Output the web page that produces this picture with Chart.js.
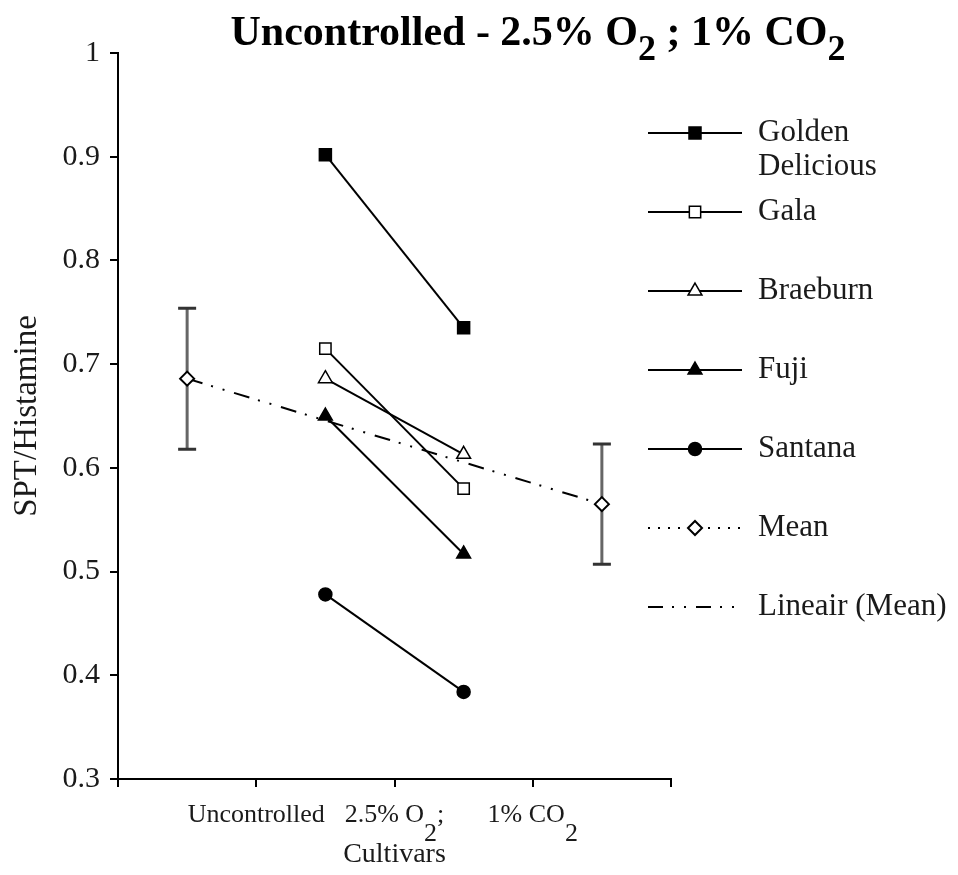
<!DOCTYPE html>
<html>
<head>
<meta charset="utf-8">
<script src="https://cdn.jsdelivr.net/npm/chart.js@4.4.0/dist/chart.umd.min.js"></script>
<style>
  html, body { margin: 0; padding: 0; background: #fff; }
</style>
</head>
<body>
<canvas id="myChart" width="958" height="875"></canvas>
<script>
"use strict";

// "_2" marks a subscript digit
const chartTitle = "Uncontrolled - 2.5% O_2 ; 1% CO_2";
const tickPos = [1, 2, 3];
const tickLabels = ["Uncontrolled", "2.5% O_2;", "1% CO_2"];

// the two storage conditions sit between the tick marks
const cultivarPos = [1.5, 2.5];
const goldenDelicious = [0.902, 0.735];
const gala = [0.715, 0.580];
const braeburn = [0.686, 0.613];
const fuji = [0.650, 0.517];
const santana = [0.478, 0.384];

const meanPos = [0.5, 3.5];
const meanValues = [0.686, 0.565];
const meanErrors = [0.068, 0.058];

const serif = '"Liberation Serif", "Times New Roman", serif';
const ink = "#1a1a1a";

function pts(xs, ys) {
  return xs.map(function (x, i) { return { x: x, y: ys[i] }; });
}

// least squares line through the mean points
function linearFit(xs, ys) {
  const n = xs.length;
  const mx = xs.reduce((a, b) => a + b, 0) / n;
  const my = ys.reduce((a, b) => a + b, 0) / n;
  let sxy = 0, sxx = 0;
  for (let i = 0; i < n; i++) {
    sxy += (xs[i] - mx) * (ys[i] - my);
    sxx += (xs[i] - mx) * (xs[i] - mx);
  }
  const b = sxy / sxx;
  return xs.map(x => my + b * (x - mx));
}

// text with subscript digits
function drawRich(ctx, str, x, y, size, weight, subScale, subDrop) {
  const parts = str.split(/_(\d)/).map((t, i) => ({ t: t, sub: i % 2 === 1 })).filter(p => p.t);
  const fontOf = p => weight + " " + (p.sub ? Math.round(size * subScale) : size) + "px " + serif;
  let w = 0;
  parts.forEach(p => { ctx.font = fontOf(p); p.w = ctx.measureText(p.t).width; w += p.w; });
  let cx = x - w / 2;
  ctx.textAlign = "left";
  ctx.textBaseline = "alphabetic";
  parts.forEach(p => {
    ctx.font = fontOf(p);
    ctx.fillText(p.t, cx, p.sub ? y + size * subDrop : y);
    cx += p.w;
  });
}

const lineDS = function (label, ys, style, radius, fill) {
  return {
    label: label,
    data: pts(cultivarPos, ys),
    borderColor: "#000",
    borderWidth: 2,
    pointStyle: style,
    pointRadius: radius,
    pointBackgroundColor: fill,
    pointBorderColor: "#000",
    pointBorderWidth: 1.5,
    legendDash: []
  };
};

const datasets = [
  lineDS("Golden Delicious", goldenDelicious, "rect", 8.5, "#000"),
  lineDS("Gala", gala, "rect", 8, "#fff"),
  lineDS("Braeburn", braeburn, "triangle", 8, "#fff"),
  lineDS("Fuji", fuji, "triangle", 8, "#000"),
  lineDS("Santana", santana, "circle", 6.5, "#000"),
  {
    label: "Mean",
    data: pts(meanPos, meanValues),
    showLine: false,
    borderColor: "#000",
    borderWidth: 2,
    pointStyle: "rectRot",
    pointRadius: 7,
    pointBackgroundColor: "#fff",
    pointBorderColor: "#000",
    pointBorderWidth: 2,
    legendDash: [2, 8],
    errors: meanErrors
  },
  {
    label: "Lineair (Mean)",
    data: pts(meanPos, linearFit(meanPos, meanValues)),
    borderColor: "#000",
    borderWidth: 2,
    borderDash: [16, 9, 2, 10, 2, 10],
    pointRadius: 0,
    legendDash: [15, 9, 2, 10, 2, 10]
  }
];

// vertical error bars under the mean markers
const errorBars = {
  id: "errorBars",
  beforeDatasetsDraw(chart) {
    const ctx = chart.ctx;
    const x = chart.scales.x, y = chart.scales.y;
    chart.data.datasets.forEach(ds => {
      if (!ds.errors) return;
      ctx.save();
      ctx.strokeStyle = "#666";
      ctx.lineWidth = 3;
      ds.data.forEach((p, i) => {
        const px = x.getPixelForValue(p.x);
        const top = y.getPixelForValue(p.y + ds.errors[i]);
        const bot = y.getPixelForValue(p.y - ds.errors[i]);
        ctx.beginPath();
        ctx.moveTo(px, top); ctx.lineTo(px, bot);
        ctx.stroke();
        ctx.strokeStyle = "#333";
        ctx.beginPath();
        ctx.moveTo(px - 9, top); ctx.lineTo(px + 9, top);
        ctx.moveTo(px - 9, bot); ctx.lineTo(px + 9, bot);
        ctx.stroke();
        ctx.strokeStyle = "#666";
      });
      ctx.restore();
    });
  }
};

// title and category labels with subscripts
const richText = {
  id: "richText",
  afterDraw(chart) {
    const ctx = chart.ctx, area = chart.chartArea;
    ctx.save();
    ctx.fillStyle = "#000";
    drawRich(ctx, chartTitle, (area.left + chart.width) / 2, area.top - 8, 42, "bold", 0.85, 0.36);
    ctx.fillStyle = ink;
    tickPos.forEach((v, i) => {
      drawRich(ctx, tickLabels[i], chart.scales.x.getPixelForValue(v), area.bottom + 43, 26, "normal", 1, 0.72);
    });
    ctx.restore();
  }
};

// legend on the right: line sample, marker, wrapped label
const sideLegend = {
  id: "sideLegend",
  afterDraw(chart) {
    const ctx = chart.ctx, area = chart.chartArea;
    const lineX = chart.width - 310, lineLen = 94, textX = lineX + 110;
    const rowTop = area.top + 80, rowGap = 79, size = 31;
    ctx.save();
    ctx.font = size + "px " + serif;
    chart.data.datasets.forEach((ds, i) => {
      const cy = rowTop + i * rowGap;
      ctx.strokeStyle = "#000";
      ctx.lineWidth = 2;
      ctx.setLineDash(ds.legendDash);
      ctx.beginPath();
      ctx.moveTo(lineX, cy); ctx.lineTo(lineX + lineLen, cy);
      ctx.stroke();
      ctx.setLineDash([]);
      if (ds.pointRadius > 0) {
        ctx.fillStyle = ds.pointBackgroundColor;
        ctx.strokeStyle = ds.pointBorderColor;
        ctx.lineWidth = ds.pointBorderWidth;
        Chart.helpers.drawPoint(ctx, {
          pointStyle: ds.pointStyle, radius: ds.pointRadius,
          rotation: 0, borderWidth: ds.pointBorderWidth
        }, lineX + lineLen / 2, cy);
      }
      // wrap the label when it runs past the canvas edge
      const maxW = chart.width - textX - 4;
      const lines = [];
      let cur = "";
      ds.label.split(" ").forEach(word => {
        const test = cur ? cur + " " + word : word;
        if (cur && ctx.measureText(test).width > maxW) { lines.push(cur); cur = word; }
        else cur = test;
      });
      lines.push(cur);
      ctx.fillStyle = ink;
      ctx.textAlign = "left";
      ctx.textBaseline = "middle";
      lines.forEach((l, k) => ctx.fillText(l, textX, cy + k * 34));
    });
    ctx.restore();
  }
};

const ctx = document.getElementById("myChart");
const myChart = new Chart(ctx, {
  type: "line",
  data: { datasets: datasets },
  options: {
    responsive: false,
    animation: false,
    layout: { padding: { top: 53, right: 287, left: 0, bottom: 0 } },
    plugins: {
      legend: { display: false },
      tooltip: { enabled: false }
    },
    scales: {
      x: {
        type: "linear",
        min: 0,
        max: 4,
        ticks: { stepSize: 1, autoSkip: false, callback: () => "" },
        grid: { drawOnChartArea: false, tickLength: 8, color: "#000", lineWidth: 2 },
        border: { color: "#000", width: 2 },
        title: {
          display: true, text: "Cultivars", color: ink,
          font: { family: serif, size: 28 }, padding: { top: 0, bottom: 4 }
        },
        afterFit: s => { s.height = 96; }
      },
      y: {
        min: 0.3,
        max: 1,
        ticks: {
          stepSize: 0.1, color: ink, padding: 10,
          font: { family: serif, size: 30 },
          callback: v => String(+v.toFixed(1))
        },
        grid: { drawOnChartArea: false, tickLength: 8, color: "#000", lineWidth: 2 },
        border: { color: "#000", width: 2 },
        title: {
          display: true, text: "SPT/Histamine", color: ink,
          font: { family: serif, size: 33 }, padding: { top: 8, bottom: 0 }
        },
        afterFit: s => { s.width = 118; }
      }
    }
  },
  plugins: [errorBars, richText, sideLegend]
});
</script>
</body>
</html>
